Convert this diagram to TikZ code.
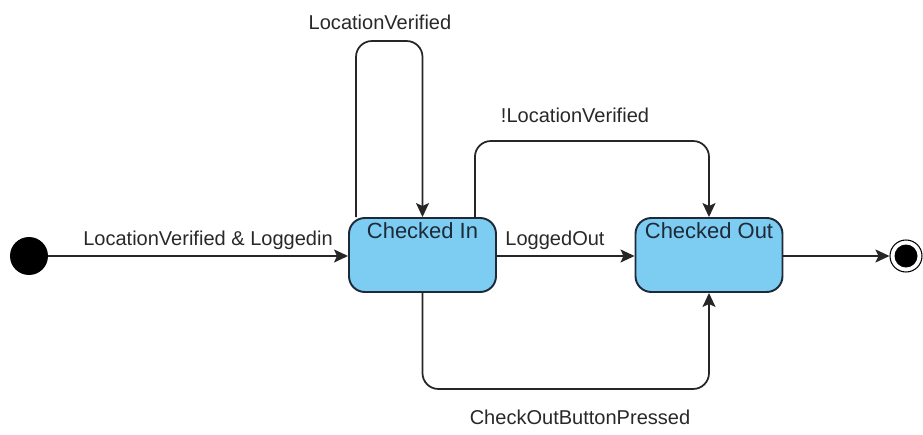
\documentclass[tikz,border=0pt]{standalone}
\usepackage{fontspec}
\setmainfont{Liberation Sans}
\usepackage{tikz}
\usetikzlibrary{positioning,calc,arrows.meta}
\definecolor{stateblue}{RGB}{125,204,242}
\definecolor{stateline}{RGB}{30,42,56}
\definecolor{labelgray}{RGB}{40,40,40}

\begin{document}
\begin{tikzpicture}[
  state/.style={draw=stateline,line width=1.1pt,rounded corners=9pt,fill=stateblue,
                minimum width=2.94cm,minimum height=1.48cm},
  statename/.style={anchor=north,font=\fontsize{12.5}{14}\selectfont,text=stateline,inner sep=2pt},
  lbl/.style={font=\fontsize{11.4}{13}\selectfont,text=labelgray},
  arr/.style={-{Stealth[length=2.8mm,width=2.6mm,inset=0.6mm]},line width=1pt,color=black!85},
  elbow/.style={arr,rounded corners=9pt}]
  \useasboundingbox (0,0) rectangle (18.46,8.68);
  % initial and final pseudo states
  \node[circle,fill=black,minimum size=0.76cm,inner sep=0] (start) at (0.58,3.56) {};
  \node[circle,draw=black,line width=0.6pt,fill=white,minimum size=0.64cm,inner sep=0] (final) at (18.12,3.56) {};
  \node[circle,fill=black,minimum size=0.46cm,inner sep=0] (finaldot) at (final) {};
  % states
  \node[state] (in)  at (8.45,3.58)  {};
  \node[state] (out) at (14.18,3.58) {};
  \node[statename] (inname)  at ([yshift=-1pt]in.north)  {Checked In};
  \node[statename] (outname) at ([yshift=-1pt]out.north) {Checked Out};
  % transitions
  \draw[arr] (start) -- (in.west |- start);
  \draw[arr] (in.east |- start) -- (out.west |- start);
  \draw[arr] (out.east |- final) -- (final);
  \draw[elbow] ([xshift=0.16cm]in.north west) -- ++(0,3.52) -| (in.north);
  \draw[elbow] ([xshift=-0.44cm]in.north east) -- ++(0,1.52) -| (out.north);
  \draw[elbow] (in.south) -- ++(0,-1.92) -| (out.south);
  % guards
  \node[lbl] (g1) at (4.16,3.88)  {LocationVerified \& Loggedin};
  \node[lbl] (g2) at (7.60,8.24)  {LocationVerified};
  \node[lbl] (g3) at (11.50,6.38) {!LocationVerified};
  \node[lbl] (g4) at (11.10,3.88) {LoggedOut};
  \node[lbl] (g5) at (11.60,0.34) {CheckOutButtonPressed};
\end{tikzpicture}
\end{document}
